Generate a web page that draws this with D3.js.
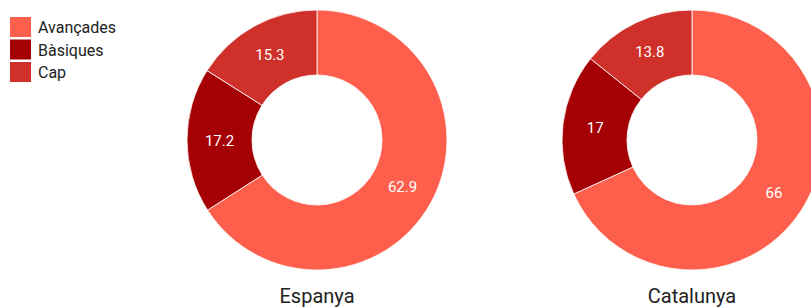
<!DOCTYPE html>
<html>
<head>
<meta charset="utf-8">
<script src="https://cdn.jsdelivr.net/npm/d3@7"></script>
<style>
  body { margin: 0; background: #fff; }
  svg { display: block; font-family: Roboto, "Noto Sans", sans-serif; }
</style>
</head>
<body>
<svg id="chart" width="811" height="308"></svg>
<script>
const categories = ["Avançades", "Bàsiques", "Cap"];
const regions = ["Espanya", "Catalunya"];
const espanyaValues = [62.9, 17.2, 15.3];
const catalunyaValues = [66, 17, 13.8];
const colors = ["#fe5f4c", "#a50004", "#d0302a"];

const svg = d3.select("#chart");

const color = d3.scaleOrdinal().domain(categories).range(colors);

// donut centers spread over the plot area
const cx = d3.scalePoint().domain(regions).range([317, 692]);
const cy = 140;
const outer = 130;
const inner = 65;

const pie = d3.pie().sort(null).value((d) => d.value);
const arc = d3.arc().innerRadius(inner).outerRadius(outer);

const series = [espanyaValues, catalunyaValues];

regions.forEach((name, i) => {
  const data = categories.map((c, j) => ({ cat: c, value: series[i][j] }));
  const g = svg.append("g").attr("transform", `translate(${cx(name)},${cy})`);

  g.selectAll("path")
    .data(pie(data))
    .join("path")
    .attr("d", arc)
    .attr("fill", (d) => color(d.data.cat))
    .attr("stroke", "#fff")
    .attr("stroke-width", 0.8);

  g.selectAll("text")
    .data(pie(data))
    .join("text")
    .attr("transform", (d) => `translate(${arc.centroid(d)})`)
    .attr("text-anchor", "middle")
    .attr("dy", "0.35em")
    .attr("font-size", 15)
    .attr("fill", "#fff")
    .text((d) => d.data.value);

  svg.append("text")
    .attr("x", cx(name))
    .attr("y", 303)
    .attr("text-anchor", "middle")
    .attr("font-size", 20)
    .attr("fill", "#222")
    .text(name);
});

const legend = svg.append("g").attr("transform", "translate(10,17)");
const rows = legend.selectAll("g")
  .data(categories)
  .join("g")
  .attr("transform", (d, i) => `translate(0,${i * 22.5})`);

rows.append("rect")
  .attr("width", 21)
  .attr("height", 20)
  .attr("fill", (d) => color(d));

rows.append("text")
  .attr("x", 28)
  .attr("y", 10)
  .attr("dy", "0.38em")
  .attr("font-size", 16)
  .attr("fill", "#222")
  .text((d) => d);
</script>
</body>
</html>
